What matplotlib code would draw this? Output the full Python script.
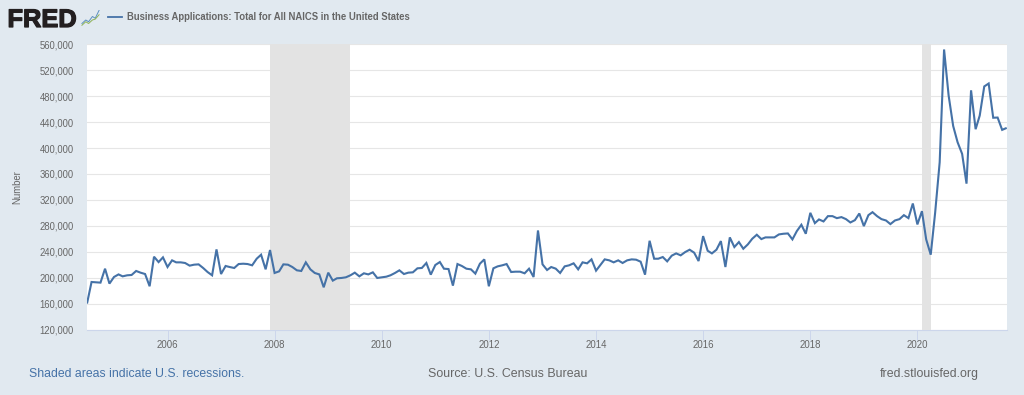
import matplotlib
matplotlib.use("Agg")
import matplotlib.pyplot as plt
import matplotlib.patheffects as pe
import matplotlib.dates as mdates
import pandas as pd
from matplotlib.ticker import FuncFormatter, FixedLocator

plt.rcParams['font.family'] = ['Liberation Sans', 'DejaVu Sans']

values = [
    160000, 193300, 192800, 192300, 213800, 190800, 201000, 205000, 202000, 203600,
    204100, 210300, 207700, 205600, 186700, 232300, 224000, 231300, 216400, 226700,
    223600, 223600, 222600, 218500, 220000, 220500, 214900, 208700, 203600, 243600,
    205600, 218000, 216400, 214900, 221000, 221500, 221000, 219000, 229200, 235400,
    212800, 242600, 207200, 209700, 220500, 220000, 216400, 211300, 210300, 223600,
    212800, 207200, 205000, 185100, 207700, 195400, 199000, 199500, 200500, 203600,
    207700, 202000, 206700, 205000, 208200, 199500, 200500, 201500, 203600, 207200,
    211300, 205600, 207700, 208200, 214400, 214900, 222600, 204600, 219500, 224100,
    213800, 213300, 187700, 221000, 218000, 213800, 212800, 206200, 221500, 228200,
    186700, 214400, 217400, 219000, 221000, 208700, 209200, 209200, 206700, 213800,
    201000, 272800, 220500, 211800, 216400, 213900, 207200, 217400, 219000, 222100,
    212800, 223600, 222100, 228200, 210800, 220000, 228200, 226700, 223600, 226700,
    222600, 226700, 228200, 227700, 224600, 204600, 256900, 229200, 229200, 231800,
    225100, 233900, 237400, 234400, 239500, 243100, 238500, 225600, 264100, 241500,
    237400, 243100, 256400, 216400, 262100, 247200, 254900, 244600, 251300, 260000,
    266200, 259500, 262100, 262100, 262100, 266700, 267700, 268200, 259000, 271800,
    281600, 267700, 300000, 284100, 289800, 286700, 294900, 294900, 291800, 293400,
    290300, 285100, 288700, 299000, 279500, 296400, 301000, 294900, 290300, 288200,
    282600, 288200, 290300, 296400, 291800, 314400, 282100, 302600, 259000, 235400,
    300000, 378000, 552000, 481000, 434000, 409000, 391000, 345000, 489000, 429000,
    450000, 495000, 499500, 446700, 447000, 428000, 431000,
]
dates = pd.date_range("2004-07-01", periods=len(values), freq="MS")
recessions = [("2007-12-01", "2009-06-01"), ("2020-02-01", "2020-04-01")]
y_ticks = list(range(120000, 560001, 40000))
x_tick_years = list(range(2006, 2021, 2))
series_name = "Business Applications: Total for All NAICS in the United States"

W, H = 1024, 395
BG = "#e1e9f0"
LINE = "#4572a7"
fig = plt.figure(figsize=(W / 100, H / 100), dpi=100, facecolor=BG)

def px(x, y):
    return x / W, 1 - y / H

L, R, T, B = 87, 1006.7, 44.3, 329.5
ax = fig.add_axes([L / W, 1 - B / H, (R - L) / W, (B - T) / H], facecolor="white")
ax.set_xlim(dates[0], dates[-1])
ax.set_ylim(120000, 560000)
ax.plot(dates, values, color=LINE, lw=1.5, zorder=4, solid_joinstyle="miter", solid_capstyle="butt")
for start, end in recessions:
    ax.axvspan(pd.Timestamp(start), pd.Timestamp(end), color="#e3e3e3", lw=0, zorder=3)

ax.yaxis.set_major_locator(FixedLocator(y_ticks))
ax.yaxis.set_major_formatter(FuncFormatter(lambda v, _: f"{int(v):,}"))
ax.set_xticks([pd.Timestamp(f"{y}-01-01") for y in x_tick_years])
ax.xaxis.set_major_formatter(mdates.DateFormatter("%Y"))
ax.grid(axis="y", color="#e6e6e6", lw=0.8, zorder=1)
ax.set_axisbelow(True)
for s in ("top", "right", "left"):
    ax.spines[s].set_visible(False)
ax.spines["bottom"].set_color("#ccd6eb")
ax.spines["bottom"].set_linewidth(0.8)
ax.tick_params(axis="y", length=0, pad=9.7, labelsize=6.85, labelcolor="#666666")
ax.tick_params(axis="x", length=7.2, width=0.7, color="#ccd6eb", pad=0.5, labelsize=6.9, labelcolor="#666666")

fig.text(*px(17, 187), "Number", rotation=90, ha="center", va="center", fontsize=6.9, color="#666666")

# header
fig.text(*px(7.5, 27), "FRED", fontsize=18.3, fontweight="bold", color="#231f20", ha="left", va="baseline",
         path_effects=[pe.withStroke(linewidth=0.9, foreground="#231f20")])
icon = fig.add_axes([81 / W, 1 - 27 / H, 19 / W, 17.5 / H], facecolor="#e3e6e6")
icon.set_xlim(0, 10)
icon.set_ylim(0, 10)
icon.axis("off")
icon.patch.set_visible(True)
icon.plot([0.5, 2.5, 4, 6, 7.5, 9.5], [2, 4, 3, 6, 5, 9.5], color="#5b8fc0", lw=0.7)
icon.plot([0.5, 2.5, 4, 6, 7.5, 9.5], [1, 3, 2, 4, 4.5, 7], color="#8db255", lw=0.7)
fig.add_artist(plt.Line2D([108 / W, 122 / W], [1 - 17.3 / H] * 2, color=LINE, lw=1.3))
fig.text(*px(127, 17.3), series_name, fontsize=6.85, fontweight="bold", color="#666666", ha="left", va="center")

# footer
fig.text(*px(29, 377), "Shaded areas indicate U.S. recessions.", fontsize=8.83, color=LINE, ha="left", va="baseline")
fig.text(*px(428, 377), "Source: U.S. Census Bureau", fontsize=8.92, color="#666666", ha="left", va="baseline")
fig.text(*px(979, 377), "fred.stlouisfed.org", fontsize=8.92, color="#666666", ha="right", va="baseline")

fig.savefig("out.png", dpi=100, facecolor=BG)
